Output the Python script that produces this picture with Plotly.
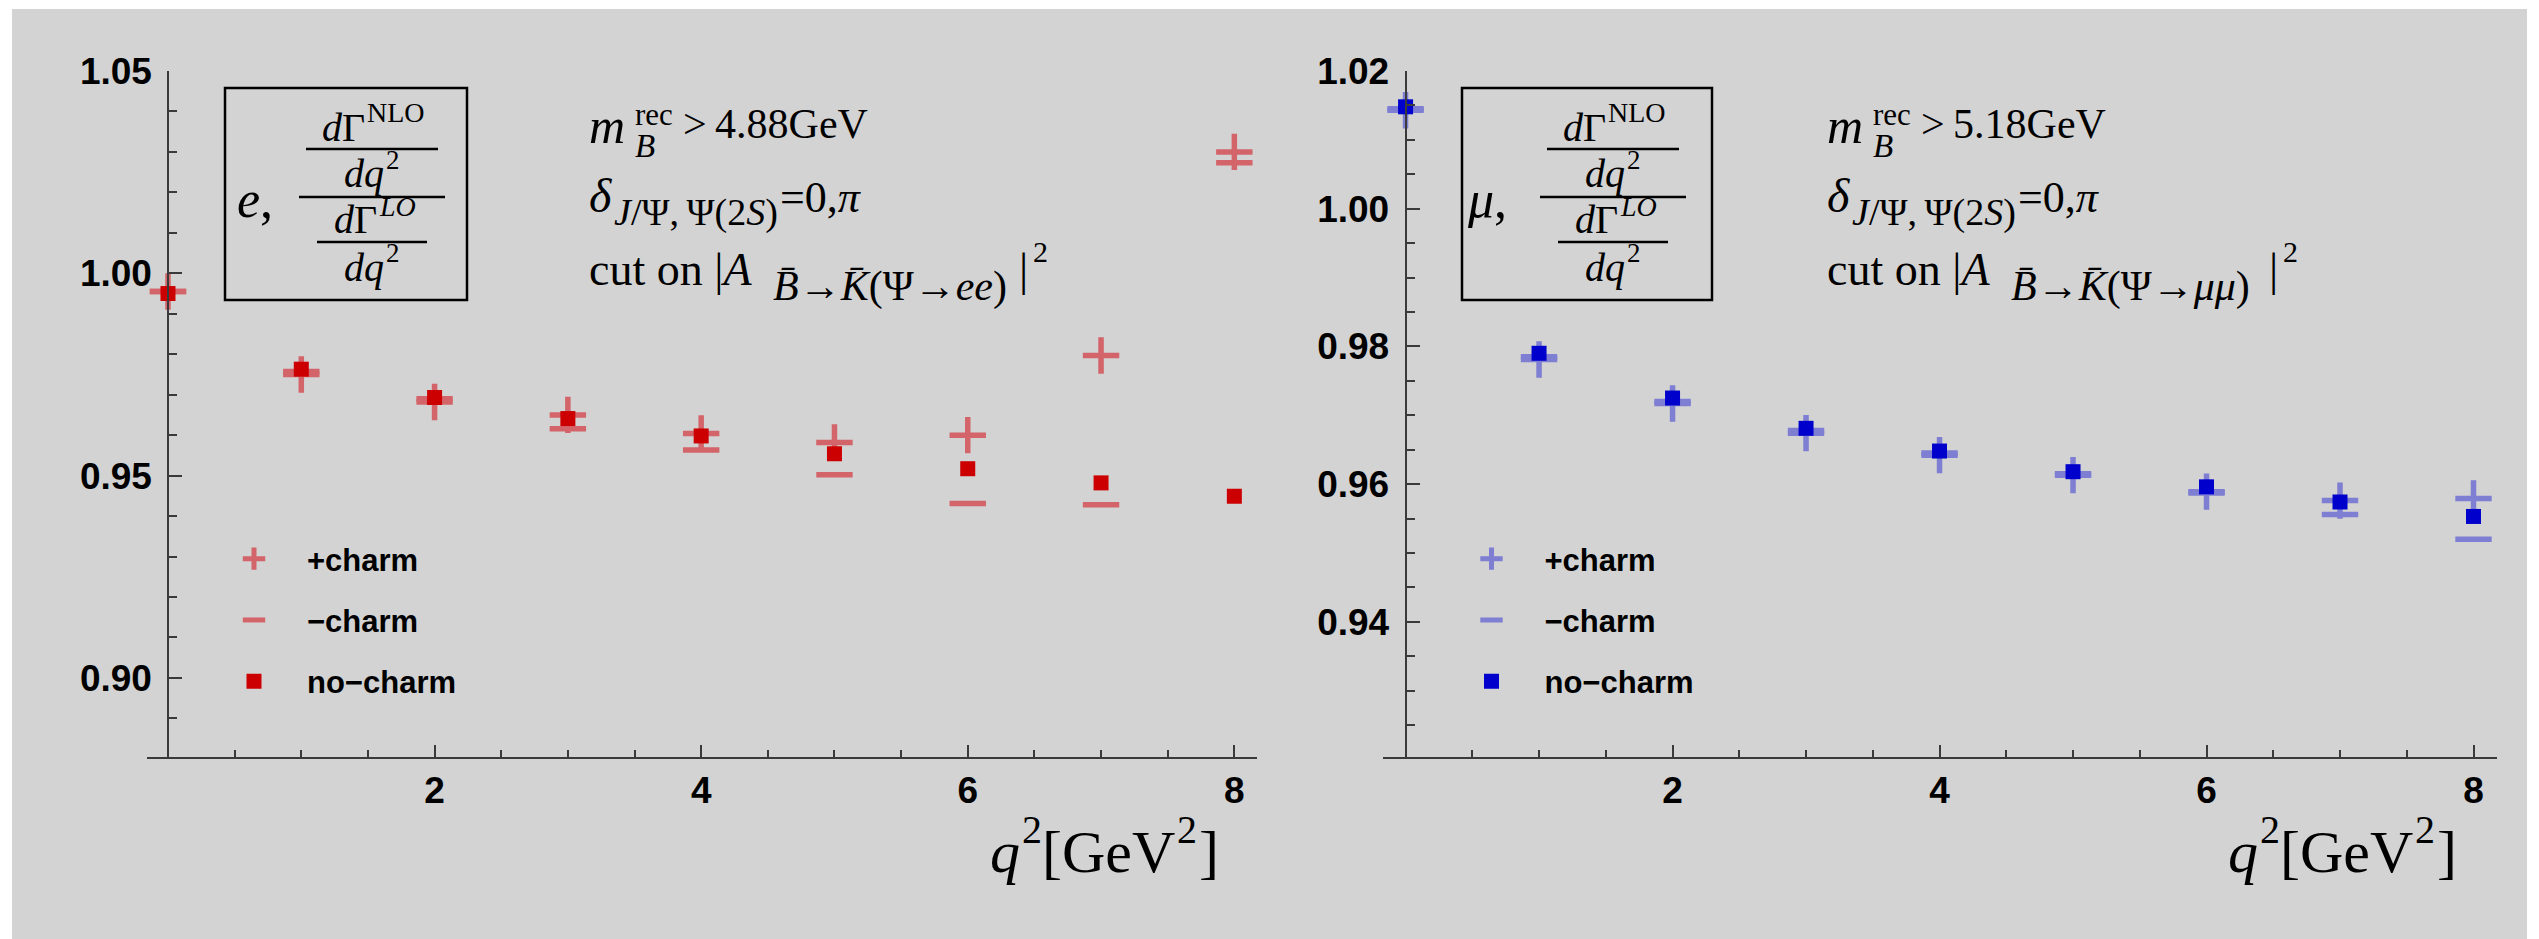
import plotly.graph_objects as go

W, H = 2539, 939

# ---------------- data ----------------
q2 = [0, 1, 2, 3, 4, 5, 6, 7, 8]
x_ticks = [2, 4, 6, 8]

e_plus_charm = [0.9955, 0.9750, 0.9682, 0.9650, 0.9604, 0.9582, 0.9600, 0.9797, 1.0300]
e_minus_charm = [0.9955, 0.9757, 0.9690, 0.9616, 0.9563, 0.9502, 0.9431, 0.9428, 1.0273]
e_no_charm = [0.9950, 0.9763, 0.9693, 0.9641, 0.9598, 0.9554, 0.9517, 0.9482, 0.9449]

mu_plus_charm = [1.0143, 0.9781, 0.9717, 0.9674, 0.9642, 0.9613, 0.9589, 0.9576, 0.9579]
mu_minus_charm = [1.0145, 0.9785, 0.9720, 0.9678, 0.9645, 0.9615, 0.9587, 0.9556, 0.9520]
mu_no_charm = [1.0148, 0.9790, 0.9725, 0.9681, 0.9648, 0.9618, 0.9596, 0.9574, 0.9553]

e_y_ticks = [0.90, 0.95, 1.00, 1.05]
mu_y_ticks = [0.94, 0.96, 0.98, 1.00, 1.02]

legend_names = ["+charm", "\u2212charm", "no\u2212charm"]

# ---------------- styles ----------------
RED = "rgb(204,0,0)"
RED_L = "rgb(211,100,106)"
BLUE = "rgb(0,0,204)"
BLUE_L = "rgb(126,126,210)"
BG = "#d3d3d3"
AX = "#3a3a3a"
SANS = "Liberation Sans"
SERIF = "Liberation Serif"


def fx(p):
    return p / W


def fy(p):
    return 1 - p / H


fig = go.Figure()


def add_panel(xa, ya, plus, minus, none, c_light, c_dark, legend):
    fig.add_trace(go.Scatter(
        x=q2, y=plus, mode="markers", name=legend_names[0], xaxis=xa, yaxis=ya,
        legend=legend, legendgroup=legend + "p",
        marker=dict(symbol="cross-thin", size=26, line=dict(width=5.5, color=c_light), color=c_light),
        cliponaxis=False))
    fig.add_trace(go.Scatter(
        x=q2, y=minus, mode="markers", name=legend_names[1], xaxis=xa, yaxis=ya,
        legend=legend, legendgroup=legend + "m",
        marker=dict(symbol="line-ew", size=26, line=dict(width=5.5, color=c_light), color=c_light),
        cliponaxis=False))
    fig.add_trace(go.Scatter(
        x=q2, y=none, mode="markers", name=legend_names[2], xaxis=xa, yaxis=ya,
        legend=legend, legendgroup=legend + "n",
        marker=dict(symbol="square", size=15, color=c_dark, line=dict(width=0)),
        cliponaxis=False))


add_panel("x", "y", e_plus_charm, e_minus_charm, e_no_charm, RED_L, RED, "legend")
add_panel("x2", "y2", mu_plus_charm, mu_minus_charm, mu_no_charm, BLUE_L, BLUE, "legend2")

ydom = [fy(757), fy(71)]

xcommon = dict(showline=True, linecolor=AX, linewidth=2, ticks="inside", ticklen=12, tickwidth=2,
               tickcolor=AX, tickmode="array", tickvals=x_ticks, ticktext=[str(v) for v in x_ticks],
               tickfont=dict(family=SANS, size=37, color="black", weight="bold"),
               minor=dict(ticks="inside", ticklen=7, tickwidth=2, tickcolor=AX, tickmode="linear",
                          tick0=0, dtick=0.5, showgrid=False),
               showgrid=False, zeroline=False, ticklabelstandoff=0, automargin=False)
ycommon = dict(showline=True, linecolor=AX, linewidth=2, ticks="inside", ticklen=13, tickwidth=2,
               tickcolor=AX, tickmode="array", tickformat=".2f",
               tickfont=dict(family=SANS, size=37, color="black", weight="bold"),
               showgrid=False, zeroline=False, anchor="free", domain=ydom, ticklabelstandoff=8,
               automargin=False)

fig.update_layout(
    xaxis=dict(domain=[fx(147), fx(1257)], range=[-0.1575, 8.17], anchor="y", **xcommon),
    xaxis2=dict(domain=[fx(1383), fx(2497)], range=[-0.169, 8.176], anchor="y2", **xcommon),
    yaxis=dict(range=[0.88045, 1.0500], position=fx(168.3), tickvals=e_y_ticks,
               minor=dict(ticks="inside", ticklen=8, tickwidth=2, tickcolor=AX, tickmode="linear",
                          tick0=0.9, dtick=0.01, showgrid=False),
               **ycommon),
    yaxis2=dict(range=[0.92036, 1.0200], position=fx(1405.6), tickvals=mu_y_ticks,
                minor=dict(ticks="inside", ticklen=8, tickwidth=2, tickcolor=AX, tickmode="linear",
                           tick0=0.92, dtick=0.005, showgrid=False),
                **ycommon),
)

leg_common = dict(font=dict(family=SANS, size=31, color="black", weight="bold"),
                  bgcolor="rgba(0,0,0,0)", borderwidth=0, itemwidth=96, tracegroupgap=18,
                  xanchor="left", yanchor="top", itemclick=False, itemdoubleclick=False)
fig.update_layout(
    legend=dict(x=fx(201), y=fy(532), **leg_common),
    legend2=dict(x=fx(201 + 1237.5), y=fy(532), **leg_common),
)

fig.update_layout(
    width=W, height=H, margin=dict(l=0, r=0, t=0, b=0, autoexpand=False),
    paper_bgcolor="white", plot_bgcolor="rgba(0,0,0,0)", showlegend=True,
)

shapes = [dict(type="rect", xref="paper", yref="paper", x0=fx(12), x1=fx(2527), y0=0, y1=fy(9),
               fillcolor=BG, line=dict(width=0), layer="below")]
annotations = []


def text(x, y, s, size, anchor="left", color="black", family=SERIF):
    annotations.append(dict(x=fx(x), y=fy(y), xref="paper", yref="paper", text=s, showarrow=False,
                            xanchor=anchor, yanchor="middle", borderpad=0,
                            font=dict(family=family, size=size, color=color)))


def hline(x0, x1, y, w=2.5):
    shapes.append(dict(type="line", xref="paper", yref="paper", x0=fx(x0), x1=fx(x1), y0=fy(y), y1=fy(y),
                       line=dict(color="black", width=w)))


def box(x0, x1, y0, y1):
    shapes.append(dict(type="rect", xref="paper", yref="paper", x0=fx(x0), x1=fx(x1), y0=fy(y1), y1=fy(y0),
                       line=dict(color="black", width=2.5), fillcolor="rgba(0,0,0,0)"))


def panel_text(dx, bx0, bx1, lep_x, lep, cx, mass, decay, bar_x, two_x):
    box(bx0, bx1, 88, 300)
    text(lep_x, 200, lep, 52)
    # fraction  dGamma^NLO / dq^2  over  dGamma^LO / dq^2
    text(cx - 6, 127, "<i>d</i>\u0393", 40, anchor="right")
    text(cx - 6, 113, "NLO", 28)
    hline(cx - 66, cx + 66, 149)
    text(cx + 13, 174, "<i>dq</i>", 40, anchor="right")
    text(cx + 13, 160, "2", 27)
    hline(cx - 73, cx + 73, 197)
    text(cx + 6, 220, "<i>d</i>\u0393", 40, anchor="right")
    text(cx + 6, 206, "<i>LO</i>", 28)
    hline(cx - 55, cx + 55, 242)
    text(cx + 13, 267, "<i>dq</i>", 40, anchor="right")
    text(cx + 13, 253, "2", 27)
    # text block
    text(588 + dx, 126, "<i>m</i>", 50)
    text(634 + dx, 115, "rec", 31)
    text(634 + dx, 146, "<i>B</i>", 33)
    text(682 + dx, 124, "&gt;\u2009" + mass + "GeV", 42)
    text(588 + dx, 196, "<i>\u03b4</i>", 48)
    text(613 + dx, 212, "<i>J</i>/\u03a8,\u2009\u03a8(2<i>S</i>)", 38)
    text(779 + dx, 198, "=0,<i>\u03c0</i>", 44)
    text(588 + dx, 270, "cut on |<i>A</i>", 46)
    text(772 + dx, 286, decay, 42)
    text(bar_x, 270, "|", 46)
    text(two_x, 252, "2", 30)


def axis_title(dx):
    text(989 + dx, 852, "<i>q</i>", 60)
    text(1021 + dx, 829, "2", 40)
    text(1041 + dx, 852, "[", 60)
    text(1061 + dx, 852, "GeV", 60)
    text(1176 + dx, 829, "2", 40)
    text(1198 + dx, 852, "]", 60)


panel_text(0, 225, 467, 236, "<i>e</i>,", 372, "4.88",
           "<i>B\u0304</i>\u2192<i>K\u0304</i>(\u03a8\u2192<i>ee</i>)", 1018, 1032)
panel_text(1237.5, 1462, 1712, 1466, "<i>\u03bc</i>,", 1613, "5.18",
           "<i>B\u0304</i>\u2192<i>K\u0304</i>(\u03a8\u2192<i>\u03bc\u03bc</i>)", 2268, 2282)

axis_title(0)
axis_title(1238)

fig.update_layout(shapes=shapes, annotations=annotations)

fig.write_html("out.html", post_script="document.body.style.margin='0';document.body.style.padding='0';")
